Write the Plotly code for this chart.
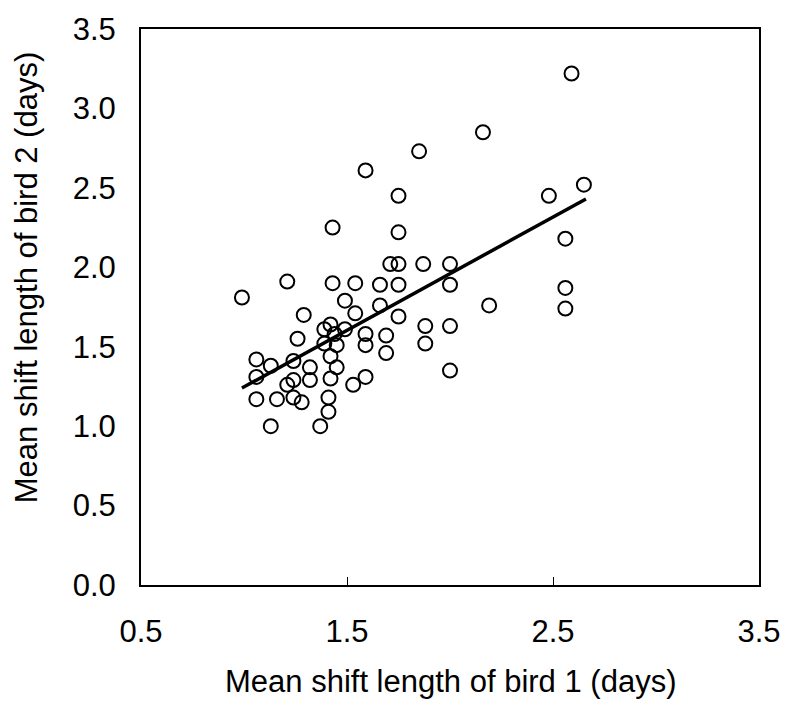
import plotly.graph_objects as go

# Mean shift length of bird 1 (days)
bird1 = [0.99, 1.06, 1.06, 1.06, 1.13, 1.16, 1.13, 1.21, 1.24, 1.21,
         1.24, 1.24, 1.28, 1.26, 1.29, 1.32, 1.32, 1.37, 1.39, 1.39,
         1.42, 1.42, 1.42, 1.41, 1.41, 1.43, 1.43, 1.44, 1.45, 1.45,
         1.49, 1.49, 1.54, 1.54, 1.53, 1.59, 1.59, 1.59, 1.59, 1.66,
         1.66, 1.69, 1.69, 1.71, 1.75, 1.75, 1.75, 1.75, 1.75, 1.85,
         1.87, 1.88, 1.88, 2.00, 2.00, 2.00, 2.00, 2.16, 2.19, 2.48,
         2.56, 2.56, 2.56, 2.59, 2.65]
# Mean shift length of bird 2 (days)
bird2 = [1.81, 1.42, 1.31, 1.17, 1.38, 1.17, 1.00, 1.91, 1.41, 1.26,
         1.29, 1.18, 1.15, 1.55, 1.70, 1.37, 1.29, 1.00, 1.52, 1.61,
         1.64, 1.44, 1.30, 1.18, 1.09, 2.25, 1.90, 1.58, 1.51, 1.37,
         1.79, 1.61, 1.90, 1.71, 1.26, 2.61, 1.58, 1.51, 1.31, 1.89,
         1.76, 1.57, 1.46, 2.02, 2.45, 2.22, 2.02, 1.89, 1.69, 2.73,
         2.02, 1.63, 1.52, 2.02, 1.89, 1.63, 1.35, 2.85, 1.76, 2.45,
         2.18, 1.87, 1.74, 3.22, 2.52]

# Regression line end points
fit_x = [0.99, 2.66]
fit_y = [1.24, 2.43]

x_ticks = [0.5, 1.5, 2.5, 3.5]
x_ticklabels = ["0.5", "1.5", "2.5", "3.5"]
y_ticks = [0.0, 0.5, 1.0, 1.5, 2.0, 2.5, 3.0, 3.5]
y_ticklabels = ["0.0", "0.5", "1.0", "1.5", "2.0", "2.5", "3.0", "3.5"]

FONT = "Liberation Sans, Arial, sans-serif"
FS = 31

fig = go.Figure()
fig.add_trace(go.Scatter(
    x=bird1, y=bird2, mode="markers",
    marker=dict(symbol="circle-open", size=14, color="black",
                line=dict(width=2, color="black")),
    showlegend=False, cliponaxis=False))
fig.add_trace(go.Scatter(
    x=fit_x, y=fit_y, mode="lines",
    line=dict(color="black", width=3.5),
    showlegend=False))

fig.update_layout(
    width=793, height=705,
    margin=dict(l=141, r=24, t=21, b=120),
    paper_bgcolor="white", plot_bgcolor="white",
    font=dict(family=FONT, size=FS, color="black"),
    xaxis=dict(range=[0.5, 3.5], tickvals=x_ticks, ticktext=x_ticklabels,
               showgrid=False, zeroline=False, showline=True, mirror=True,
               linecolor="black", linewidth=2, ticks="inside", ticklen=8,
               tickcolor="black", tickwidth=1, ticklabelstandoff=18,
               tickfont=dict(size=FS, family=FONT, color="black")),
    yaxis=dict(range=[0, 3.5], tickvals=y_ticks, ticktext=y_ticklabels,
               showgrid=False, zeroline=False, showline=True, mirror=True,
               linecolor="black", linewidth=2, ticks="inside", ticklen=0,
               tickcolor="black", ticklabelstandoff=17,
               tickfont=dict(size=FS, family=FONT, color="black")),
    annotations=[
        dict(text="Mean shift length of bird 1 (days)", xref="paper", yref="paper",
             x=0.5, y=-0.174, xanchor="center", yanchor="middle", showarrow=False,
             font=dict(size=FS, family=FONT, color="black")),
        dict(text="Mean shift length of bird 2 (days)", xref="paper", yref="paper",
             x=-0.185, y=0.553, xanchor="center", yanchor="middle", showarrow=False,
             textangle=-90, font=dict(size=FS, family=FONT, color="black")),
    ],
)

fig.write_html("out.html")
